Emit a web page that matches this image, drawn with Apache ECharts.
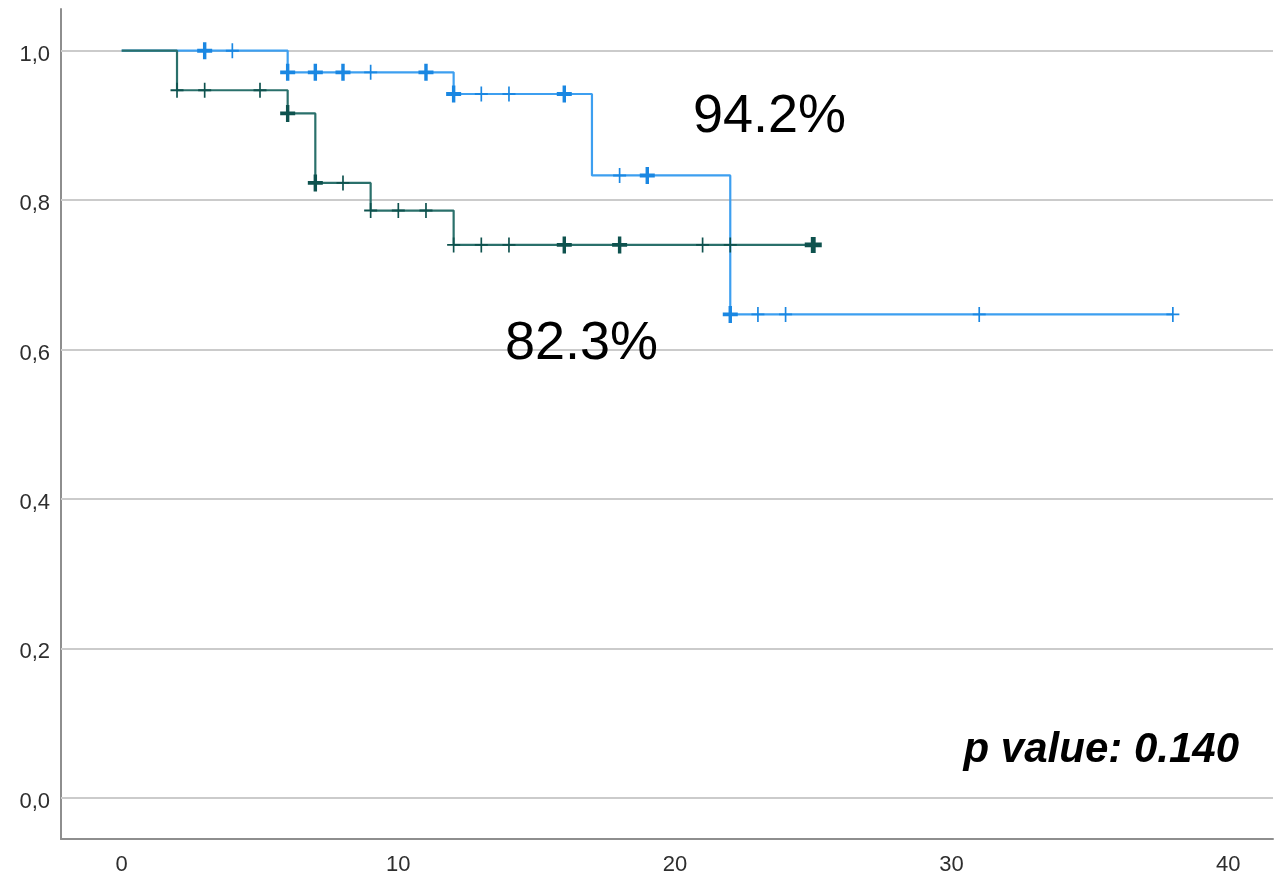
<!DOCTYPE html>
<html>
<head>
<meta charset="utf-8">
<script src="https://cdn.jsdelivr.net/npm/echarts@6/dist/echarts.min.js"></script>
<style>
  html, body { margin: 0; padding: 0; background: #ffffff; }
  #chart { width: 1274px; height: 879px; }
</style>
</head>
<body>
<div id="chart"></div>
<script>
// Kaplan-Meier survival estimates: event times and survival after each event
const blueTimes = [0, 6, 12, 17, 22, 38];
const blueSurv  = [1.0, 0.971, 0.942, 0.833, 0.647, 0.647];
const tealTimes = [0, 2, 6, 7, 9, 12, 25];
const tealSurv  = [1.0, 0.947, 0.916, 0.823, 0.786, 0.740, 0.740];

// Censored observations (time, number censored at that time)
const blueCensorTimes  = [3, 4, 6, 7, 8, 9, 11, 12, 13, 14, 16, 18, 19, 22, 23, 24, 31, 38];
const blueCensorCounts = [2, 1, 2, 2, 2, 1, 2, 2, 1, 1, 2, 1, 2, 2, 1, 1, 1, 1];
const tealCensorTimes  = [2, 3, 5, 6, 7, 8, 9, 10, 11, 12, 13, 14, 16, 18, 21, 22, 25];
const tealCensorCounts = [1, 1, 1, 2, 2, 1, 1, 1, 1, 1, 1, 1, 2, 2, 1, 1, 3];

// Axis ticks
const xTicks = [0, 10, 20, 30, 40];
const yTicks = [0, 0.2, 0.4, 0.6, 0.8, 1.0];

// Annotations
const blueLabelValue = blueSurv[2];
const tealLabelValue = tealSurv[3];
const pValueText = 'p value: 0.140';

const BLUE_LINE = '#3d9ff0';
const BLUE_MARK = '#1a87e2';
const TEAL_LINE = '#2a706b';
const TEAL_MARK = '#0e524e';

// Survival at time t (step function, value after any event at t)
function survAt(times, surv, t) {
  let s = surv[0];
  for (let i = 0; i < times.length; i++) {
    if (times[i] <= t) s = surv[i];
  }
  return s;
}

// Plus-sign censor glyphs; heavier stroke where several cases share a time
const crossThin  = 'path://M6.1,0 H7.9 V6.1 H14 V7.9 H7.9 V14 H6.1 V7.9 H0 V6.1 H6.1 Z';
const crossBold  = 'path://M5.4,0 H8.6 V5.4 H14 V8.6 H8.6 V14 H5.4 V8.6 H0 V5.4 H5.4 Z';
const crossHeavy = 'path://M5,0 H9 V5 H14 V9 H9 V14 H5 V9 H0 V5 H5 Z';

function censorData(times, counts, stepTimes, stepSurv) {
  return times.map((t, i) => {
    const c = counts[i];
    return {
      value: [t, survAt(stepTimes, stepSurv, t)],
      symbol: c >= 3 ? crossHeavy : (c === 2 ? crossBold : crossThin),
      symbolSize: c >= 3 ? [17, 16] : (c === 2 ? [15, 17] : [13, 15])
    };
  });
}

const chart = echarts.init(document.getElementById('chart'), null, { renderer: 'canvas' });

const labelFont = 'Liberation Sans, Arial, Helvetica, sans-serif';

chart.setOption({
  animation: false,
  backgroundColor: '#ffffff',
  grid: { left: 61, right: 1, top: 9, bottom: 40, containLabel: false },
  xAxis: {
    type: 'value',
    min: -2.194,
    max: 41.62,
    axisLine: { show: true, onZero: false, lineStyle: { color: '#8e8e8e', width: 2 } },
    axisTick: { show: false },
    splitLine: { show: false },
    axisLabel: {
      customValues: xTicks,
      color: '#2e2e2e',
      fontSize: 22,
      fontFamily: labelFont,
      margin: 15
    }
  },
  yAxis: {
    type: 'value',
    min: -0.0553,
    max: 1.0558,
    axisLine: { show: true, onZero: false, lineStyle: { color: '#8e8e8e', width: 2 } },
    axisTick: { show: false },
    splitLine: { show: false },
    axisLabel: {
      customValues: yTicks,
      formatter: v => v.toFixed(1).replace('.', ','),
      color: '#2e2e2e',
      fontSize: 22,
      fontFamily: labelFont,
      verticalAlign: 'top',
      lineHeight: 8,
      margin: 11
    }
  },
  series: [
    {
      // horizontal reference lines, kept beneath the curves
      type: 'line',
      data: [],
      z: 1,
      silent: true,
      markLine: {
        z: 1,
        silent: true,
        symbol: ['none', 'none'],
        label: { show: false },
        lineStyle: { color: '#cbcbcb', width: 2, type: 'solid' },
        emphasis: { disabled: true },
        data: yTicks.map(v => ({ yAxis: v }))
      }
    },
    {
      type: 'line',
      step: 'end',
      data: blueTimes.map((t, i) => [t, blueSurv[i]]),
      symbol: 'none',
      z: 3,
      lineStyle: { color: BLUE_LINE, width: 2.2 }
    },
    {
      type: 'line',
      step: 'end',
      data: tealTimes.map((t, i) => [t, tealSurv[i]]),
      symbol: 'none',
      z: 4,
      lineStyle: { color: TEAL_LINE, width: 2.2 }
    },
    {
      type: 'scatter',
      data: censorData(blueCensorTimes, blueCensorCounts, blueTimes, blueSurv),
      z: 5,
      itemStyle: { color: BLUE_MARK, opacity: 1 }
    },
    {
      type: 'scatter',
      data: censorData(tealCensorTimes, tealCensorCounts, tealTimes, tealSurv),
      z: 6,
      itemStyle: { color: TEAL_MARK, opacity: 1 }
    }
  ],
  graphic: [
    {
      type: 'text',
      left: 693,
      top: 90,
      style: {
        text: (blueLabelValue * 100).toFixed(1) + '%',
        fill: '#000000',
        font: '54px "Liberation Sans", Arial, Helvetica, sans-serif'
      },
      z: 10
    },
    {
      type: 'text',
      left: 505,
      top: 317,
      style: {
        text: (tealLabelValue * 100).toFixed(1) + '%',
        fill: '#000000',
        font: '54px "Liberation Sans", Arial, Helvetica, sans-serif'
      },
      z: 10
    },
    {
      type: 'text',
      right: 35,
      top: 729,
      style: {
        text: pValueText,
        fill: '#000000',
        font: 'italic bold 42px "Liberation Sans", Arial, Helvetica, sans-serif'
      },
      z: 10
    }
  ]
});
</script>
</body>
</html>
